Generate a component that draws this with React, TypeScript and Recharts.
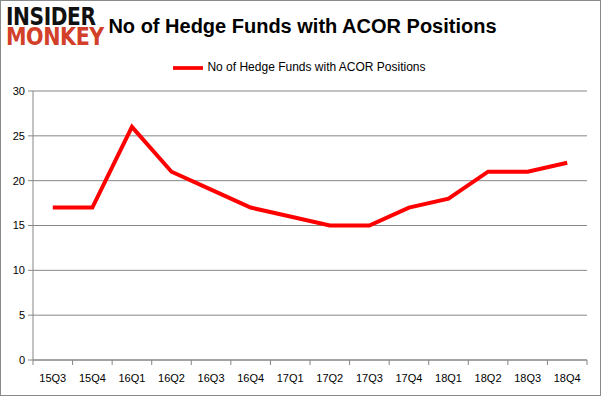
import React from 'react'
import { LineChart, Line, XAxis, YAxis, CartesianGrid, Legend } from 'recharts'

const quarters = ['15Q3', '15Q4', '16Q1', '16Q2', '16Q3', '16Q4', '17Q1', '17Q2', '17Q3', '17Q4', '18Q1', '18Q2', '18Q3', '18Q4']
const funds = [17, 17, 26, 21, 19, 17, 16, 15, 15, 17, 18, 21, 21, 22]
const yTicks = [0, 5, 10, 15, 20, 25, 30]
const seriesName = 'No of Hedge Funds with ACOR Positions'

const data = quarters.map((q, i) => ({ q, v: funds[i] }))

const axisGray = '#868686'
const font = '"Liberation Sans", Arial, sans-serif'

function QuarterTick(props: any) {
  const { x, y, payload, index } = props
  const off = payload.offset || 0
  const top = y - 8
  return (
    <g>
      <line x1={x - off} x2={x - off} y1={top} y2={top + 5} stroke={axisGray} />
      {index === quarters.length - 1 && (
        <line x1={x + off} x2={x + off} y1={top} y2={top + 5} stroke={axisGray} />
      )}
      <text x={x} y={y + 14} textAnchor="middle" fontSize={11} fill="#000" fontFamily={font}>
        {payload.value}
      </text>
    </g>
  )
}

export default function App() {
  return (
    <div style={{ position: 'fixed', left: 0, top: 0, width: 601, height: 396, background: '#fff', boxSizing: 'border-box', border: '1px solid #8a8a8a', overflow: 'hidden' }}>
      <div style={{ position: 'absolute', left: 0, top: 0 }}>
        <LineChart width={599} height={394} data={data} margin={{ top: 90, right: 13, bottom: 6, left: 0 }}>
          <CartesianGrid vertical={false} stroke={axisGray} strokeWidth={1} />
          <XAxis
            dataKey="q"
            scale="band"
            stroke={axisGray}
            tickLine={false}
            tick={<QuarterTick />}
            height={29}
            interval={0}
          />
          <YAxis
            domain={[0, 30]}
            ticks={yTicks}
            stroke={axisGray}
            tickSize={5}
            width={32}
            tick={{ fill: '#000', fontSize: 11, fontFamily: font }}
            tickMargin={3}
          />
          <Legend
            verticalAlign="middle"
            align="center"
            layout="horizontal"
            iconType="plainline"
            iconSize={30}
            wrapperStyle={{ top: 52, left: 4, width: 599, fontFamily: font, fontSize: 12 }}
            formatter={(value: string) => <span style={{ color: '#000' }}>{value}</span>}
          />
          <Line
            type="linear"
            dataKey="v"
            name={seriesName}
            stroke="#ff0000"
            strokeWidth={4}
            dot={false}
            isAnimationActive={false}
          />
        </LineChart>
      </div>
      <div style={{ position: 'absolute', left: 0, right: 0, top: 14, textAlign: 'center', fontFamily: font, fontWeight: 'bold', fontSize: 20, color: '#000', paddingLeft: 4 }}>
        {seriesName}
      </div>
      {/* logo */}
      <div style={{ position: 'absolute', left: 5, top: 6, fontFamily: '"DejaVu Sans", sans-serif', fontWeight: 900, lineHeight: '20px' }}>
        <div style={{ fontSize: 24, color: '#111', letterSpacing: -0.5, transform: 'scaleX(0.84)', transformOrigin: 'left', whiteSpace: 'nowrap' }}>INSIDER</div>
        <div style={{ fontSize: 24, color: '#d2402a', letterSpacing: -0.5, transform: 'scaleX(0.86)', transformOrigin: 'left', whiteSpace: 'nowrap' }}>MONKEY</div>
      </div>
    </div>
  )
}
